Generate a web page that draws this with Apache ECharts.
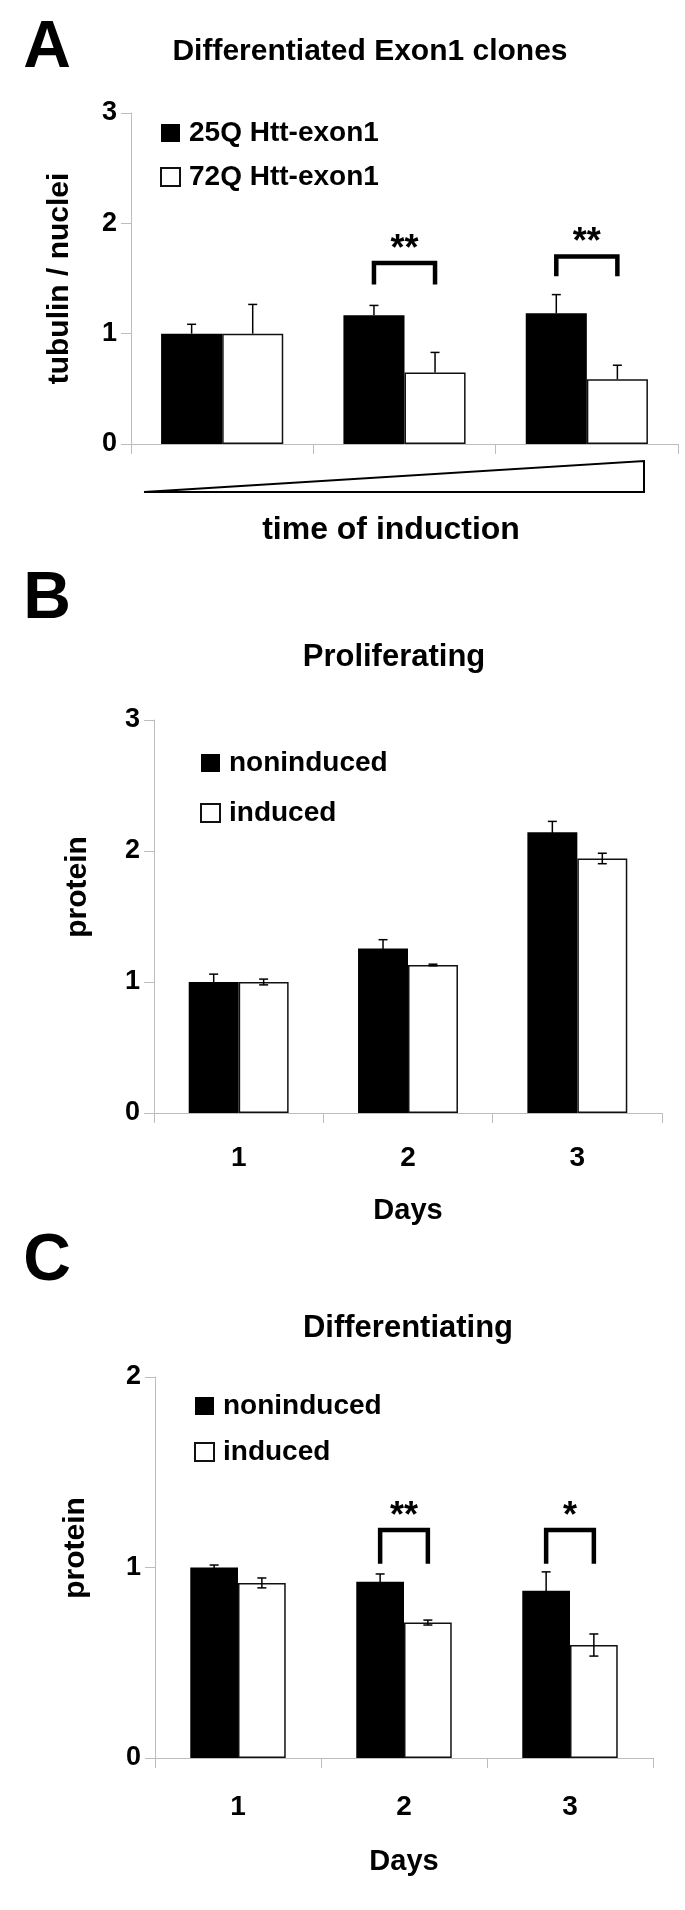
<!DOCTYPE html>
<html>
<head>
<meta charset="utf-8">
<script src="https://cdn.jsdelivr.net/npm/echarts@6/dist/echarts.min.js"></script>
<style>
html,body{margin:0;padding:0;background:#fff;}
#chart{width:685px;height:1910px;}
</style>
</head>
<body>
<div id="chart"></div>
<script>
// ---------- DATA ----------
const catsA = ['1', '2', '3'];
const daysB = ['1', '2', '3'];
const daysC = ['1', '2', '3'];
const seriesNamesA = ['25Q Htt-exon1', '72Q Htt-exon1'];
const seriesNamesBC = ['noninduced', 'induced'];

const a25Q = [1.00, 1.166, 1.184];
const a25QErr = [0.085, 0.09, 0.17];
const a72Q = [1.00, 0.648, 0.587];
const a72QErr = [0.265, 0.182, 0.127];

const bNon = [1.00, 1.255, 2.144];
const bNonErr = [0.06, 0.068, 0.082];
const bInd = [1.00, 1.13, 1.943];
const bIndErr = [0.022, 0.006, 0.04];

const cNon = [1.00, 0.925, 0.878];
const cNonErr = [0.013, 0.041, 0.099];
const cInd = [0.919, 0.711, 0.593];
const cIndErr = [0.026, 0.013, 0.058];

// significance brackets: [category, bracket level, leg end level]
const sigA = [[1, 1.64, 1.446], [2, 1.70, 1.52]];
const sigALabels = ['**', '**'];
const sigC = [[1, 1.197, 1.02], [2, 1.197, 1.02]];
const sigCLabels = ['**', '*'];

const yMaxA = 3, yMaxB = 3, yMaxC = 2;

// ---------- STYLE / LAYOUT ----------
const FONT = "'Liberation Sans', Arial, Helvetica, sans-serif";
const AXIS_GRAY = '#bdbdbd';
const gapA = 0.33, gapB = 0.41, gapC = 0.425;
const GA = {left: 131, top: 113, width: 547, height: 331};
const GB = {left: 154, top: 720, width: 508, height: 393};
const GC = {left: 155, top: 1377, width: 498, height: 381};

function errRender(gap, side, twoSided) {
  return function (params, api) {
    const c = api.value(0), v = api.value(1), e = api.value(2);
    const band = api.size([1, 0])[0];
    const bw = band * (1 - gap) / 2;
    const x = api.coord([c, v])[0] + side * bw / 2;
    const yT = api.coord([c, v + e])[1];
    const yB = twoSided ? api.coord([c, v - e])[1] : api.coord([c, v])[1];
    const cap = 4.5;
    const st = {stroke: '#000', lineWidth: 1.5};
    const ch = [
      {type: 'line', shape: {x1: x, y1: yT, x2: x, y2: yB}, style: st},
      {type: 'line', shape: {x1: x - cap, y1: yT, x2: x + cap, y2: yT}, style: st}
    ];
    if (twoSided) ch.push({type: 'line', shape: {x1: x - cap, y1: yB, x2: x + cap, y2: yB}, style: st});
    return {type: 'group', children: ch};
  };
}

function sigRender(gap, labels) {
  return function (params, api) {
    const c = api.value(0), lvl = api.value(1), leg = api.value(2);
    const band = api.size([1, 0])[0];
    const bw = band * (1 - gap) / 2;
    const cx = api.coord([c, lvl])[0];
    const xL = cx - bw / 2, xR = cx + bw / 2;
    const yL = api.coord([c, lvl])[1];
    const yG = api.coord([c, leg])[1];
    return {type: 'group', children: [
      {type: 'polyline', shape: {points: [[xL, yG], [xL, yL], [xR, yL], [xR, yG]]},
       style: {stroke: '#000', lineWidth: 4.5, fill: null, lineJoin: 'miter'}},
      {type: 'text', style: {text: labels[params.dataIndex], x: cx, y: yL - 13,
        fill: '#000', fontSize: 36, fontWeight: 'bold', fontFamily: FONT,
        align: 'center', verticalAlign: 'middle'}}
    ]};
  };
}

const toErr = (vals, errs) => vals.map((v, i) => [i, v, errs[i]]);

function xAxisCfg(idx, cats, showLabels, labelMargin, nameGap) {
  return {
    type: 'category', gridIndex: idx, data: cats,
    axisLine: {show: true, lineStyle: {color: AXIS_GRAY, width: 1}},
    axisTick: {show: true, length: 10, lineStyle: {color: AXIS_GRAY}},
    axisLabel: {show: showLabels, fontSize: 28, fontWeight: 'bold', fontFamily: FONT, color: '#000', margin: labelMargin},
    name: showLabels ? 'Days' : '', nameLocation: 'middle', nameGap: nameGap,
    nameTextStyle: {fontSize: 29, fontWeight: 'bold', fontFamily: FONT, color: '#000'},
    splitLine: {show: false}
  };
}
function yAxisCfg(idx, max) {
  return {
    type: 'value', gridIndex: idx, min: 0, max: max, interval: 1,
    axisLine: {show: true, lineStyle: {color: AXIS_GRAY, width: 1}},
    axisTick: {show: true, length: 10, lineStyle: {color: AXIS_GRAY}},
    axisLabel: {fontSize: 27, fontWeight: 'bold', fontFamily: FONT, color: '#000', margin: 14},
    splitLine: {show: false}
  };
}
function legendCfg(names, left, top, gap) {
  return {
    data: names, orient: 'vertical', left: left, top: top, itemGap: gap,
    icon: 'rect', itemWidth: 19, itemHeight: 18, selectedMode: false,
    textStyle: {fontSize: 28, fontWeight: 'bold', fontFamily: FONT, color: '#000', lineHeight: 28, padding: [0, 0, 0, 4]}
  };
}
function txt(text, x, y, size, rot) {
  return {type: 'text', x: x, y: y, rotation: rot || 0,
    style: {text: text, fontSize: size, fontWeight: 'bold', fontFamily: FONT, fill: '#000',
      align: 'center', verticalAlign: 'middle', textAlign: 'center', textVerticalAlign: 'middle'}};
}
const blackBar = {color: '#000'};
const whiteBar = {color: '#fff', borderColor: '#111', borderWidth: 1.5};

const triL = GA.left + 13, triR = 644, triTop = 461, triBot = 492;

const option = {
  animation: false,
  backgroundColor: '#fff',
  grid: [
    Object.assign({containLabel: false}, GA),
    Object.assign({containLabel: false}, GB),
    Object.assign({containLabel: false}, GC)
  ],
  xAxis: [
    xAxisCfg(0, catsA, false, 10, 0),
    xAxisCfg(1, daysB, true, 31, 83),
    xAxisCfg(2, daysC, true, 35, 89)
  ],
  yAxis: [yAxisCfg(0, yMaxA), yAxisCfg(1, yMaxB), yAxisCfg(2, yMaxC)],
  legend: [
    legendCfg(seriesNamesA, 155, 114, 16),
    legendCfg(seriesNamesBC, 195, 744, 22),
    legendCfg(seriesNamesBC, 189, 1387, 18)
  ],
  graphic: [
    txt('A', 47, 49, 66),
    txt('Differentiated Exon1 clones', 370, 52, 30),
    txt('tubulin / nuclei', 60, GA.top + GA.height / 2, 30, Math.PI / 2),
    {type: 'polygon', shape: {points: [[triL, triBot], [triR, triTop], [triR, triBot]]},
     style: {fill: '#fff', stroke: '#000', lineWidth: 2}},
    txt('time of induction', 391, 530, 32),
    txt('B', 47, 600, 66),
    txt('Proliferating', 394, 657, 31),
    txt('protein', 78, 887, 30, Math.PI / 2),
    txt('C', 47, 1262, 66),
    txt('Differentiating', 408, 1328, 31),
    txt('protein', 76, 1548, 30, Math.PI / 2)
  ],
  series: [
    {name: seriesNamesA[0], type: 'bar', xAxisIndex: 0, yAxisIndex: 0, data: a25Q, itemStyle: blackBar, barGap: '0%', barCategoryGap: (gapA * 100) + '%'},
    {name: seriesNamesA[1], type: 'bar', xAxisIndex: 0, yAxisIndex: 0, data: a72Q, itemStyle: whiteBar, barGap: '0%', barCategoryGap: (gapA * 100) + '%'},
    {type: 'custom', xAxisIndex: 0, yAxisIndex: 0, data: toErr(a25Q, a25QErr), renderItem: errRender(gapA, -1, false), z: 5},
    {type: 'custom', xAxisIndex: 0, yAxisIndex: 0, data: toErr(a72Q, a72QErr), renderItem: errRender(gapA, 1, false), z: 5},
    {type: 'custom', xAxisIndex: 0, yAxisIndex: 0, data: sigA, renderItem: sigRender(gapA, sigALabels), z: 6},

    {name: seriesNamesBC[0], type: 'bar', xAxisIndex: 1, yAxisIndex: 1, data: bNon, itemStyle: blackBar, barGap: '0%', barCategoryGap: (gapB * 100) + '%'},
    {name: seriesNamesBC[1], type: 'bar', xAxisIndex: 1, yAxisIndex: 1, data: bInd, itemStyle: whiteBar, barGap: '0%', barCategoryGap: (gapB * 100) + '%'},
    {type: 'custom', xAxisIndex: 1, yAxisIndex: 1, data: toErr(bNon, bNonErr), renderItem: errRender(gapB, -1, true), z: 5},
    {type: 'custom', xAxisIndex: 1, yAxisIndex: 1, data: toErr(bInd, bIndErr), renderItem: errRender(gapB, 1, true), z: 5},

    {name: seriesNamesBC[0], type: 'bar', xAxisIndex: 2, yAxisIndex: 2, data: cNon, itemStyle: blackBar, barGap: '0%', barCategoryGap: (gapC * 100) + '%'},
    {name: seriesNamesBC[1], type: 'bar', xAxisIndex: 2, yAxisIndex: 2, data: cInd, itemStyle: whiteBar, barGap: '0%', barCategoryGap: (gapC * 100) + '%'},
    {type: 'custom', xAxisIndex: 2, yAxisIndex: 2, data: toErr(cNon, cNonErr), renderItem: errRender(gapC, -1, true), z: 5},
    {type: 'custom', xAxisIndex: 2, yAxisIndex: 2, data: toErr(cInd, cIndErr), renderItem: errRender(gapC, 1, true), z: 5},
    {type: 'custom', xAxisIndex: 2, yAxisIndex: 2, data: sigC, renderItem: sigRender(gapC, sigCLabels), z: 6}
  ]
};

const chart = echarts.init(document.getElementById('chart'), null, {renderer: 'canvas'});
chart.setOption(option);
</script>
</body>
</html>
